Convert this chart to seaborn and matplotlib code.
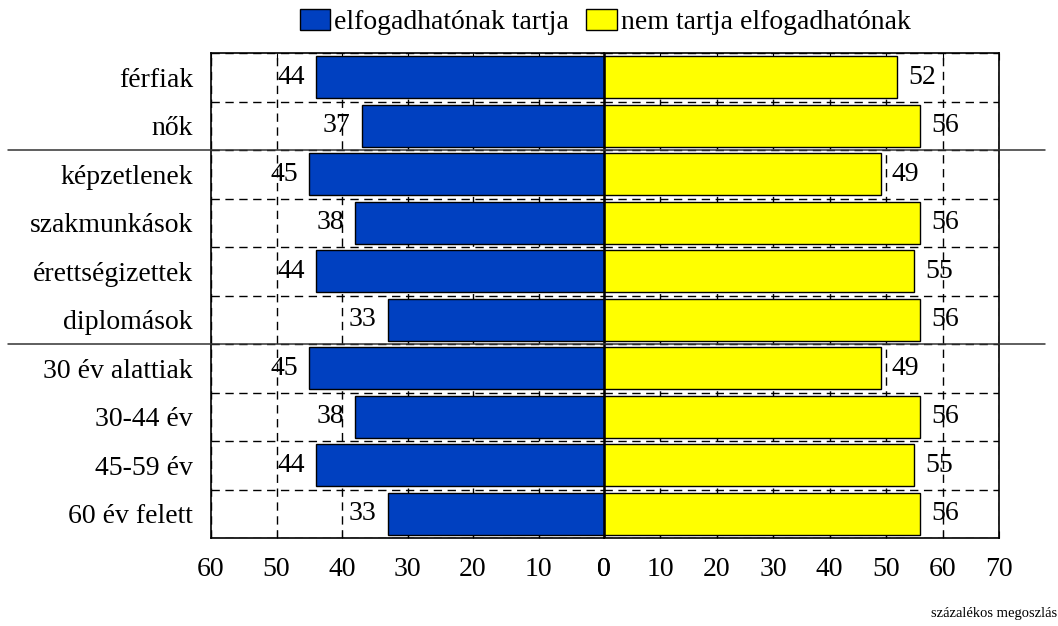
import pandas as pd
import numpy as np
import matplotlib
matplotlib.use('Agg')
import matplotlib.pyplot as plt
import matplotlib.transforms as mtransforms
from matplotlib.lines import Line2D
from matplotlib.patches import Patch
import seaborn as sns

# Data
groups = ['férfiak', 'nők', 'képzetlenek', 'szakmunkások', 'érettségizettek',
          'diplomások', '30 év alattiak', '30-44 év', '45-59 év', '60 év felett']
accept = [44, 37, 45, 38, 44, 33, 45, 38, 44, 33]
reject = [52, 56, 49, 56, 55, 56, 49, 56, 55, 56]
left_ticks = [60, 50, 40, 30, 20, 10, 0]
right_ticks = [0, 10, 20, 30, 40, 50, 60, 70]

LABEL_ACCEPT = 'elfogadhatónak tartja'
LABEL_REJECT = 'nem tartja elfogadhatónak'
BLUE = '#0040C0'
YELLOW = '#FFFF00'
FS = 20

df = pd.DataFrame({'group': groups, 'accept': accept, 'reject': reject})

sns.set_style('white')
plt.rcParams['font.family'] = ['Liberation Serif', 'DejaVu Serif']
plt.rcParams['text.color'] = 'black'
plt.rcParams['xtick.color'] = 'black'
plt.rcParams['ytick.color'] = 'black'
plt.rcParams['axes.labelcolor'] = 'black'

fig = plt.figure(figsize=(10.58, 6.26), dpi=100)
W, H = 1058, 626
bottom = (H - 538) / H
height = 485 / H
ax_l = fig.add_axes([211 / W, bottom, 393 / W, height])
ax_r = fig.add_axes([604 / W, bottom, 395 / W, height])

sns.barplot(data=df, y='group', x='accept', ax=ax_l, color=BLUE, saturation=1,
            edgecolor='black', linewidth=1, width=0.86, orient='h', zorder=3)
sns.barplot(data=df, y='group', x='reject', ax=ax_r, color=YELLOW, saturation=1,
            edgecolor='black', linewidth=1, width=0.86, orient='h', zorder=3)

ax_l.set_xlim(60, 0)
ax_r.set_xlim(0, 70)

dash = (0, (6, 4))
for ax, ticks in [(ax_l, left_ticks), (ax_r, right_ticks)]:
    ax.set_ylim(len(groups) - 0.5, -0.5)
    ax.set_xticks(ticks)
    ax.set_xticklabels([str(t) for t in ticks], fontsize=FS)
    ax.set_yticks(np.arange(len(groups) + 1) - 0.5, minor=True)
    ax.set_xlabel('')
    ax.set_ylabel('')
    ax.set_axisbelow(True)
    ax.grid(axis='x', which='major', color='black', linestyle=dash, linewidth=1)
    ax.grid(axis='y', which='minor', color='black', linestyle=dash, linewidth=1)
    ax.tick_params(axis='x', direction='in', length=5, top=True, bottom=True,
                   pad=14, color='black')
    ax.tick_params(axis='y', which='both', length=0)
    for s in ax.spines.values():
        s.set_color('black')
        s.set_linewidth(1.2)
    ax.axvline(0, color='black', linewidth=1.8, zorder=5)
    ax.bar_label(ax.containers[0], padding=8, fontsize=FS)

ax_l.spines['right'].set_visible(False)
ax_r.spines['left'].set_visible(False)
ax_l.set_yticks(range(len(groups)))
ax_l.set_yticklabels(groups, fontsize=FS)
ax_l.tick_params(axis='y', pad=13)
ax_r.set_yticks([])

# solid separators between group blocks, across the whole figure
trans = mtransforms.blended_transform_factory(fig.transFigure, ax_l.transData)
for yb in [1.5, 5.5]:
    fig.add_artist(Line2D([8 / W, 1045 / W], [yb, yb], transform=trans,
                          color='#333333', linewidth=1.1, zorder=6))

handles = [Patch(facecolor=BLUE, edgecolor='black', label=LABEL_ACCEPT),
           Patch(facecolor=YELLOW, edgecolor='black', label=LABEL_REJECT)]
fig.legend(handles=handles, loc='center', bbox_to_anchor=(0.572, 1 - 22 / H),
           ncol=2, frameon=False, fontsize=FS, handlelength=1.1, handleheight=0.8,
           handletextpad=0.15, columnspacing=0.6)

fig.text(1057 / W, 1 - 613 / H, 'százalékos megoszlás', ha='right', va='center',
         fontsize=10.5)

fig.savefig('out.png', dpi=100)
